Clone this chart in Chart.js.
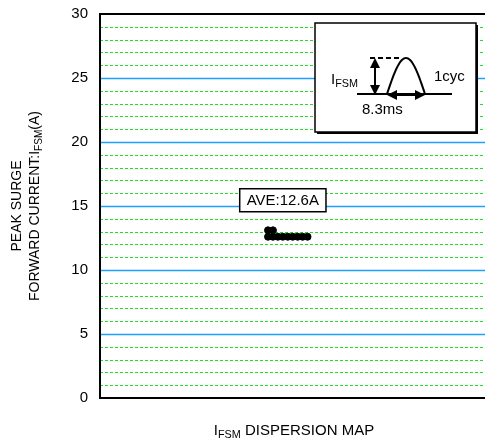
<!DOCTYPE html>
<html>
<head>
<meta charset="utf-8">
<script src="https://cdn.jsdelivr.net/npm/chart.js@4.4.0/dist/chart.umd.min.js"></script>
<style>
  html, body { margin: 0; padding: 0; background: #fff; }
  #wrap { width: 485px; height: 445px; }
</style>
</head>
<body>
<div id="wrap"><canvas id="myChart"></canvas></div>
<script>
// sample positions along the map and measured surge current (A)
const sampleNo = [34, 35, 34, 35, 36, 37, 38, 39, 40, 41, 42];
const ifsmValues = [13.1, 13.1, 12.6, 12.6, 12.6, 12.6, 12.6, 12.6, 12.6, 12.6, 12.6];
const yTicks = [0, 5, 10, 15, 20, 25, 30];
const minorLines = [1, 2, 3, 4, 6, 7, 8, 9, 11, 12, 13, 14, 16, 17, 18, 19, 21, 22, 23, 24, 26, 27, 28, 29];
const aveLabel = 'AVE:12.6A';
const aveBoxAt = { x: 37, y: 15.45 };

const FONT = '"Liberation Sans", Arial, sans-serif';

// text with a subscript part
function subText(ctx, x, y, main, sub, rest, size, align) {
  let subSize = size * 0.72;
  ctx.font = size + 'px ' + FONT;
  let w1 = ctx.measureText(main).width;
  ctx.font = subSize + 'px ' + FONT;
  let w2 = ctx.measureText(sub).width;
  ctx.font = size + 'px ' + FONT;
  let w3 = ctx.measureText(rest).width;
  let total = w1 + w2 + w3;
  let x0 = align === 'center' ? x - total / 2 : x;
  ctx.textAlign = 'left';
  ctx.textBaseline = 'middle';
  ctx.fillText(main, x0, y);
  ctx.font = subSize + 'px ' + FONT;
  ctx.fillText(sub, x0 + w1, y + size * 0.3);
  ctx.font = size + 'px ' + FONT;
  ctx.fillText(rest, x0 + w1 + w2, y);
  return total;
}

function arrowHead(ctx, x, y, dx, dy) {
  let s = 10, w = 5;
  ctx.beginPath();
  ctx.moveTo(x, y);
  ctx.lineTo(x - dx * s - dy * w, y - dy * s - dx * w);
  ctx.lineTo(x - dx * s + dy * w, y - dy * s + dx * w);
  ctx.closePath();
  ctx.fill();
}

const gridPlugin = {
  id: 'gridLines',
  beforeDatasetsDraw(chart) {
    const { ctx, chartArea, scales } = chart;
    const y = scales.y;
    const right = chart.width;
    ctx.save();
    ctx.lineWidth = 1;
    ctx.strokeStyle = '#22dd22';
    ctx.setLineDash([3, 2]);
    minorLines.forEach(v => {
      let py = Math.round(y.getPixelForValue(v)) + 0.5;
      ctx.beginPath();
      ctx.moveTo(chartArea.left, py);
      ctx.lineTo(right, py);
      ctx.stroke();
    });
    ctx.setLineDash([]);
    ctx.strokeStyle = '#1ea0ff';
    ctx.lineWidth = 1.3;
    yTicks.forEach(v => {
      if (v === 0 || v === 30) return;
      let py = Math.round(y.getPixelForValue(v)) + 0.5;
      ctx.beginPath();
      ctx.moveTo(chartArea.left, py);
      ctx.lineTo(right, py);
      ctx.stroke();
    });
    // frame
    ctx.strokeStyle = '#000';
    ctx.lineWidth = 2;
    ctx.beginPath();
    ctx.moveTo(right + 5, chartArea.top);
    ctx.lineTo(chartArea.left, chartArea.top);
    ctx.lineTo(chartArea.left, chartArea.bottom);
    ctx.lineTo(right + 5, chartArea.bottom);
    ctx.stroke();
    ctx.restore();
  },
  afterDraw(chart) {
    const { ctx, chartArea, scales } = chart;
    ctx.save();

    // average box
    let cx = scales.x.getPixelForValue(aveBoxAt.x);
    let cy = scales.y.getPixelForValue(aveBoxAt.y);
    ctx.font = '15px ' + FONT;
    let tw = ctx.measureText(aveLabel).width;
    let bw = tw + 14, bh = 23;
    ctx.fillStyle = '#fff';
    ctx.fillRect(cx - bw / 2, cy - bh / 2, bw, bh);
    ctx.strokeStyle = '#000';
    ctx.lineWidth = 1.5;
    ctx.strokeRect(cx - bw / 2, cy - bh / 2, bw, bh);
    ctx.fillStyle = '#000';
    ctx.textAlign = 'center';
    ctx.textBaseline = 'middle';
    ctx.fillText(aveLabel, cx, cy + 1);

    // inset waveform diagram
    let bx = 315, by = 23, w = 161, h = 109;
    ctx.fillStyle = '#000';
    ctx.fillRect(bx + 2, by + 2, w, h); // shadow
    ctx.fillStyle = '#fff';
    ctx.fillRect(bx, by, w, h);
    ctx.lineWidth = 1.5;
    ctx.strokeRect(bx, by, w, h);

    ctx.fillStyle = '#000';
    ctx.strokeStyle = '#000';
    ctx.lineWidth = 2;
    ctx.beginPath();
    ctx.moveTo(357, 94);
    ctx.lineTo(452, 94);
    ctx.stroke();
    // half sine
    ctx.beginPath();
    for (let i = 0; i <= 40; i++) {
      let t = i / 40;
      let px = 387 + t * 38;
      let py = 94 - Math.sin(Math.PI * t) * 36;
      if (i === 0) ctx.moveTo(px, py); else ctx.lineTo(px, py);
    }
    ctx.stroke();
    // dashed peak line
    ctx.setLineDash([5, 3]);
    ctx.beginPath();
    ctx.moveTo(370, 58);
    ctx.lineTo(400, 58);
    ctx.stroke();
    ctx.setLineDash([]);
    // vertical arrow
    ctx.beginPath();
    ctx.moveTo(375, 64);
    ctx.lineTo(375, 88);
    ctx.stroke();
    arrowHead(ctx, 375, 58, 0, -1);
    arrowHead(ctx, 375, 95, 0, 1);
    // horizontal arrow
    ctx.beginPath();
    ctx.moveTo(393, 95);
    ctx.lineTo(419, 95);
    ctx.stroke();
    arrowHead(ctx, 387, 95, -1, 0);
    arrowHead(ctx, 425, 95, 1, 0);

    subText(ctx, 331, 80, 'I', 'FSM', '', 15, 'left');
    ctx.font = '15px ' + FONT;
    ctx.textAlign = 'left';
    ctx.textBaseline = 'middle';
    ctx.fillText('1cyc', 434, 77);
    ctx.fillText('8.3ms', 362, 110);

    // axis titles
    subText(ctx, 294, 431, 'I', 'FSM', ' DISPERSION MAP', 15, 'center');

    ctx.translate(0, (chartArea.top + chartArea.bottom) / 2);
    ctx.rotate(-Math.PI / 2);
    ctx.font = '14px ' + FONT;
    ctx.textAlign = 'center';
    ctx.textBaseline = 'middle';
    ctx.fillText('PEAK SURGE', 0, 17);
    subText(ctx, 0, 35, 'FORWARD CURRENT:I', 'FSM', '(A)', 14, 'center');
    ctx.restore();
  }
};

const points = sampleNo.map((x, i) => ({ x: x, y: ifsmValues[i] }));

new Chart(document.getElementById('myChart'), {
  type: 'scatter',
  data: {
    datasets: [{
      data: points,
      backgroundColor: '#000',
      borderColor: '#000',
      pointRadius: 3.5,
      pointHoverRadius: 3.5
    }]
  },
  options: {
    responsive: true,
    maintainAspectRatio: false,
    animation: false,
    events: [],
    layout: { padding: { left: 0, top: 14, right: 0, bottom: 47 } },
    plugins: { legend: { display: false }, tooltip: { enabled: false } },
    scales: {
      x: { type: 'linear', min: 0, max: 77, display: false },
      y: {
        min: 0,
        max: 30,
        afterFit(scale) { scale.width = 100; scale.paddingTop = 0; scale.paddingBottom = 0; },
        afterBuildTicks(scale) { scale.ticks = yTicks.map(v => ({ value: v })); },
        grid: { display: false, drawTicks: false },
        border: { display: false },
        ticks: {
          padding: 12,
          color: '#000',
          font: { family: FONT, size: 15 }
        }
      }
    }
  },
  plugins: [gridPlugin]
});
</script>
</body>
</html>
